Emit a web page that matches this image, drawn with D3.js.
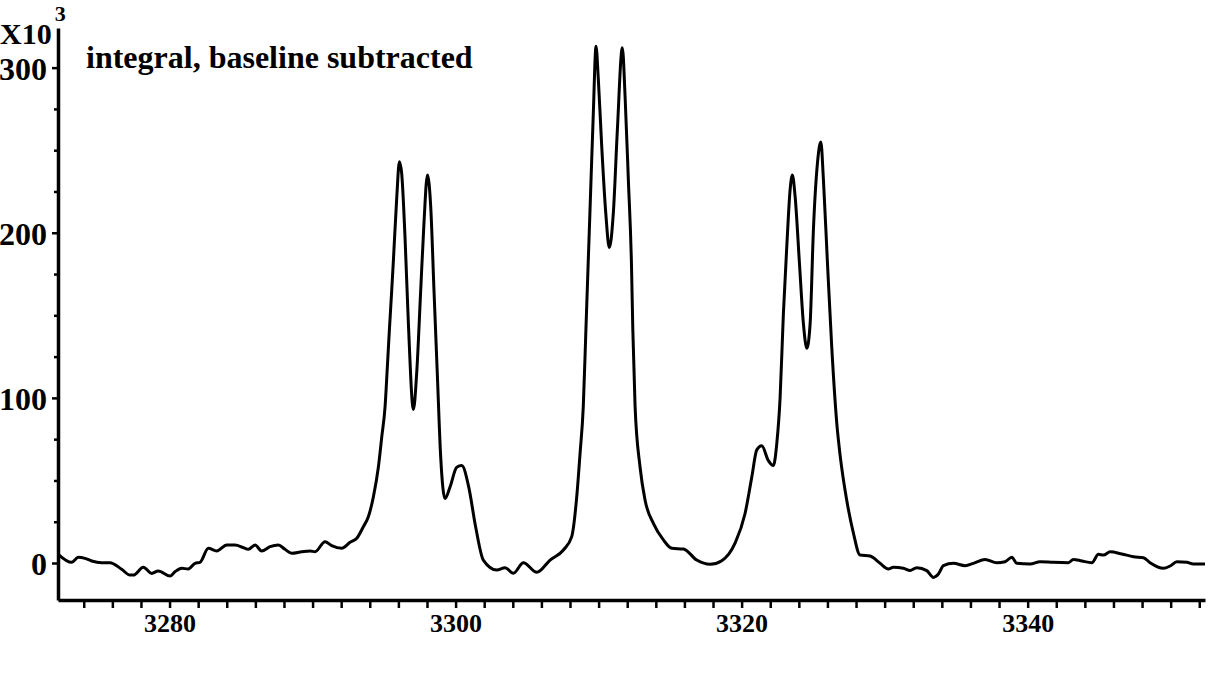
<!DOCTYPE html>
<html>
<head>
<meta charset="utf-8">
<script src="https://cdn.jsdelivr.net/npm/d3@7"></script>
<style>
  body { margin: 0; background: #fff; }
  svg text { font-family: "Liberation Serif", "Times New Roman", serif; font-weight: bold; fill: #000; }
</style>
</head>
<body>
<div id="chart"></div>
<script>
//// ============================================ DATA ============================================ ////

// position along the scan (x) and baseline-subtracted integral in units of 10^3 (y)
var scanX = [
    3272.22, 3273.16, 3273.62, 3274.09, 3274.56, 3275.26, 3275.84, 3276.65, 3277.23, 3277.47,
    3278.17, 3278.75, 3279.21, 3280.03, 3280.38, 3280.85, 3281.31, 3281.78, 3282.13, 3282.71,
    3283.30, 3284.00, 3284.58, 3285.16, 3285.51, 3285.98, 3286.44, 3287.03, 3287.61, 3288.07,
    3288.54, 3289.24, 3289.82, 3290.17, 3290.87, 3291.34, 3292.04, 3292.62, 3293.09, 3293.55,
    3293.90, 3294.25, 3294.60, 3294.84, 3295.07, 3295.23, 3295.37, 3295.54, 3295.65, 3295.89,
    3296.07, 3296.23, 3296.47, 3296.70, 3297.05, 3297.28, 3297.56, 3297.79, 3298.03, 3298.26,
    3298.49, 3298.72, 3298.96, 3299.26, 3299.61, 3300.08, 3300.43, 3300.92, 3301.40, 3301.94,
    3302.88, 3303.46, 3304.04, 3304.74, 3305.68, 3306.61, 3307.54, 3308.12, 3308.47, 3308.70,
    3308.93, 3309.10, 3309.17, 3309.40, 3309.63, 3309.82, 3309.98, 3310.22, 3310.50, 3310.75,
    3311.03, 3311.31, 3311.66, 3311.85, 3312.08, 3312.30, 3312.39, 3312.55, 3312.90, 3313.25,
    3313.83, 3314.53, 3315.12, 3315.93, 3316.86, 3317.79, 3318.61, 3319.54, 3320.24, 3320.71,
    3321.06, 3321.41, 3321.87, 3322.22, 3322.46, 3322.69, 3322.92, 3323.16, 3323.39, 3323.55,
    3323.74, 3324.04, 3324.32, 3324.56, 3324.79, 3325.02, 3325.30, 3325.54, 3325.72, 3326.00,
    3326.30, 3326.65, 3326.89, 3327.35, 3327.82, 3328.28, 3328.98, 3329.68, 3330.26, 3330.61,
    3331.31, 3331.78, 3332.25, 3332.95, 3333.41, 3333.76, 3334.11, 3334.81, 3335.63, 3336.21,
    3337.03, 3337.84, 3338.42, 3338.89, 3339.24, 3340.17, 3340.87, 3341.80, 3342.85, 3343.20,
    3343.79, 3344.49, 3344.95, 3345.30, 3345.77, 3346.58, 3347.40, 3348.10, 3348.56, 3349.49,
    3349.96, 3350.43, 3351.13, 3351.59, 3352.40
];

var integral = [
    5.3, 0.4, 3.5, 2.8, 1.2, 0.2, 0.2, -3.8, -7.3, -7.3,
    -2.6, -6.3, -4.8, -7.9, -5.3, -3.2, -3.6, -0.2, 0.4, 8.9,
    7.3, 10.9, 10.9, 9.3, 8.3, 10.9, 7.3, 9.9, 10.9, 8.3,
    5.9, 6.8, 7.3, 6.8, 12.9, 10.5, 8.9, 12.5, 15, 22,
    28, 40, 58, 76.5, 94.7, 119, 141, 166, 183, 222,
    243, 236, 196, 145, 93, 115, 165, 206, 235, 216,
    165, 115, 64, 39, 46, 58, 59, 46, 22, 1.8,
    -4.2, -2.8, -6.2, 0.2, -5.6, 1.8, 7.9, 16, 40, 66,
    95, 138, 156, 214, 272.5, 313, 293, 252, 212, 191,
    212, 262, 312, 283, 232, 180, 142, 95, 58, 38,
    24, 14, 8.9, 8.5, 1.8, -0.8, 1.4, 12, 30, 52,
    68.5, 71, 62, 59, 72.5, 100, 151, 192, 226, 235,
    222, 182, 145, 130, 145, 202, 242, 255, 232, 182,
    131, 85, 65, 38, 18, 4.8, 4.2, -0.2, -3.6, -2.6,
    -3.2, -4.6, -2.8, -4.6, -8.7, -6.7, -1.6, -0.2, -1.6, -0.2,
    2.2, 0.2, 0.8, 3.5, -0.2, -0.6, 0.8, 0.4, 0.2, 2.2,
    1.2, 0.2, 5.3, 4.8, 6.8, 5.5, 3.8, 3.2, 0.2, -3.2,
    -1.8, 0.8, 0.4, -0.6, -0.6
];

var xDomain = [3272.2, 3352.4];
var yDomain = [-22.4, 324];
var xTickValues = d3.range(3274, 3353, 2);
var xTickLabels = [3280, 3300, 3320, 3340];
var yTickValues = d3.range(0, 325, 25);
var yTickLabels = [0, 100, 200, 300];
var titleText = "integral, baseline subtracted";

//// ============================================ LAYOUT ============================================ ////

var width = 1208;
var height = 677;
var margin = { top: 28, right: 3, bottom: 77, left: 58 };

var svg = d3.select("#chart").append("svg")
    .attr("width", width)
    .attr("height", height);

var g = svg.append("g")
    .attr("transform", "translate(" + margin.left + "," + margin.top + ")");

var innerW = width - margin.left - margin.right;
var innerH = height - margin.top - margin.bottom;

var x = d3.scaleLinear().domain(xDomain).range([0, innerW]);
var y = d3.scaleLinear().domain(yDomain).range([innerH, 0]);

//// ============================================ AXES ============================================ ////

var xAxis = g.append("g")
    .attr("transform", "translate(0," + innerH + ")")
    .call(d3.axisBottom(x)
        .tickValues(xTickValues)
        .tickSize(8)
        .tickSizeOuter(0)
        .tickPadding(6)
        .tickFormat(function(d) { return xTickLabels.indexOf(d) >= 0 ? d : ""; }));

xAxis.select(".domain").attr("stroke-width", 3.5);
xAxis.selectAll(".tick line").attr("stroke-width", 2.5);
xAxis.selectAll(".tick text")
    .style("font-size", "26px");

var yAxis = g.append("g")
    .call(d3.axisLeft(y)
        .tickValues(yTickValues)
        .tickSize(6)
        .tickSizeOuter(0)
        .tickPadding(5)
        .tickFormat(function(d) { return yTickLabels.indexOf(d) >= 0 ? d : ""; }));

yAxis.select(".domain").attr("stroke-width", 3.5);
yAxis.selectAll(".tick line")
    .attr("stroke-width", 2.5)
    .attr("x2", function(d) { return yTickLabels.indexOf(d) >= 0 ? -6 : -4; });
yAxis.selectAll(".tick text")
    .attr("dy", "0.36em")
    .style("font-size", "32px");

// multiplier label
var mult = svg.append("text")
    .attr("x", 0)
    .attr("y", 44)
    .style("font-size", "30px")
    .text("X10");
mult.append("tspan")
    .attr("dx", 3)
    .attr("dy", -23)
    .style("font-size", "22px")
    .text("3");

// title
svg.append("text")
    .attr("x", 86)
    .attr("y", 68)
    .style("font-size", "32px")
    .text(titleText);

//// ============================================ CURVE ============================================ ////

var line = d3.line()
    .x(function(d) { return x(d[0]); })
    .y(function(d) { return y(d[1]); })
    .curve(d3.curveMonotoneX);

g.append("path")
    .datum(d3.zip(scanX, integral))
    .attr("fill", "none")
    .attr("stroke", "#000")
    .attr("stroke-width", 3)
    .attr("stroke-linejoin", "round")
    .attr("d", line);
</script>
</body>
</html>
